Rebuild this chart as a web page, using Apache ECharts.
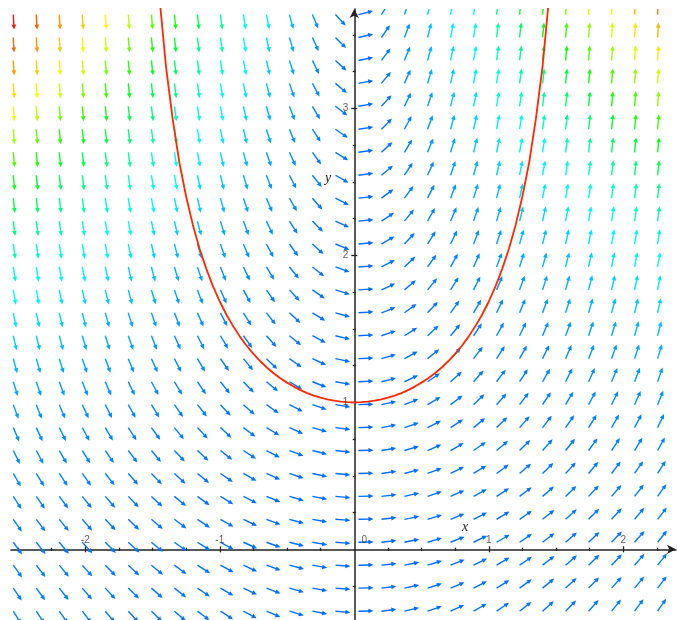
<!DOCTYPE html>
<html><head><meta charset="utf-8">
<script src="https://cdn.jsdelivr.net/npm/echarts@6/dist/echarts.min.js"></script>
<style>html,body{margin:0;padding:0;background:#fff}#c{width:677px;height:620px}</style>
</head><body><div id="c"></div>
<script>
// Arrow tail positions of the direction field (data units)
const gridX = [-2.535,-2.364,-2.193,-2.022,-1.851,-1.680,-1.508,-1.337,-1.166,-0.995,-0.824,-0.653,-0.482,-0.311,-0.140,0.031,0.202,0.373,0.545,0.716,0.887,1.058,1.229,1.400,1.571,1.742,1.913,2.084,2.255];
const gridY = [3.638,3.482,3.326,3.170,3.014,2.858,2.701,2.545,2.389,2.233,2.077,1.921,1.765,1.609,1.453,1.297,1.140,0.984,0.828,0.672,0.516,0.360,0.204,0.048,-0.108,-0.264,-0.421];
// Slope dy/dx of each arrow, row by row (top row first)
const slopes = [
[-18.04,-16.82,-15.61,-14.39,-13.17,-11.95,-10.73,-9.52,-8.30,-7.08,-5.86,-4.65,-3.43,-2.21,-0.99,0.22,1.44,2.66,3.88,5.09,6.31,7.53,8.75,9.96,11.18,12.40,13.62,14.83,16.05],
[-16.64,-15.51,-14.39,-13.27,-12.14,-11.02,-9.90,-8.77,-7.65,-6.53,-5.40,-4.28,-3.16,-2.04,-0.91,0.21,1.33,2.45,3.58,4.70,5.82,6.95,8.07,9.19,10.32,11.44,12.56,13.68,14.81],
[-15.29,-14.26,-13.23,-12.19,-11.16,-10.13,-9.10,-8.07,-7.03,-6.00,-4.97,-3.94,-2.91,-1.87,-0.84,0.19,1.22,2.25,3.29,4.32,5.35,6.38,7.41,8.45,9.48,10.51,11.54,12.57,13.61],
[-14.00,-13.06,-12.11,-11.17,-10.22,-9.28,-8.33,-7.39,-6.44,-5.50,-4.55,-3.61,-2.66,-1.72,-0.77,0.17,1.12,2.06,3.01,3.95,4.90,5.84,6.79,7.73,8.68,9.62,10.57,11.51,12.46],
[-12.78,-11.92,-11.06,-10.19,-9.33,-8.47,-7.60,-6.74,-5.88,-5.02,-4.15,-3.29,-2.43,-1.56,-0.70,0.16,1.02,1.89,2.75,3.61,4.48,5.34,6.20,7.06,7.93,8.79,9.65,10.52,11.38],
[-11.62,-10.84,-10.05,-9.27,-8.48,-7.70,-6.91,-6.13,-5.34,-4.56,-3.78,-2.99,-2.21,-1.42,-0.64,0.14,0.93,1.71,2.50,3.28,4.07,4.85,5.63,6.42,7.20,7.99,8.77,9.56,10.34],
[-10.52,-9.81,-9.10,-8.39,-7.68,-6.97,-6.26,-5.55,-4.84,-4.13,-3.42,-2.71,-2.00,-1.29,-0.58,0.13,0.84,1.55,2.26,2.97,3.68,4.39,5.10,5.81,6.52,7.23,7.94,8.65,9.36],
[-9.48,-8.84,-8.20,-7.56,-6.92,-6.28,-5.64,-5.00,-4.36,-3.72,-3.08,-2.44,-1.80,-1.16,-0.52,0.12,0.76,1.40,2.04,2.68,3.32,3.96,4.60,5.24,5.88,6.52,7.16,7.80,8.44],
[-8.50,-7.93,-7.35,-6.78,-6.21,-5.63,-5.06,-4.49,-3.91,-3.34,-2.76,-2.19,-1.62,-1.04,-0.47,0.10,0.68,1.25,1.82,2.40,2.97,3.55,4.12,4.69,5.27,5.84,6.42,6.99,7.56],
[-7.59,-7.08,-6.56,-6.05,-5.54,-5.03,-4.52,-4.00,-3.49,-2.98,-2.47,-1.96,-1.44,-0.93,-0.42,0.09,0.60,1.12,1.63,2.14,2.65,3.16,3.68,4.19,4.70,5.21,5.72,6.24,6.75],
[-6.74,-6.28,-5.83,-5.37,-4.92,-4.46,-4.01,-3.55,-3.10,-2.64,-2.19,-1.73,-1.28,-0.83,-0.37,0.08,0.54,0.99,1.45,1.90,2.36,2.81,3.27,3.72,4.17,4.63,5.08,5.54,5.99],
[-5.95,-5.54,-5.14,-4.74,-4.34,-3.94,-3.54,-3.14,-2.73,-2.33,-1.93,-1.53,-1.13,-0.73,-0.33,0.07,0.47,0.87,1.28,1.68,2.08,2.48,2.88,3.28,3.68,4.08,4.49,4.89,5.29],
[-5.22,-4.87,-4.51,-4.16,-3.81,-3.46,-3.10,-2.75,-2.40,-2.05,-1.70,-1.34,-0.99,-0.64,-0.29,0.06,0.42,0.77,1.12,1.47,1.83,2.18,2.53,2.88,3.23,3.59,3.94,4.29,4.64],
[-4.55,-4.24,-3.93,-3.63,-3.32,-3.01,-2.71,-2.40,-2.09,-1.78,-1.48,-1.17,-0.86,-0.56,-0.25,0.06,0.36,0.67,0.98,1.28,1.59,1.90,2.21,2.51,2.82,3.13,3.43,3.74,4.05],
[-3.94,-3.68,-3.41,-3.15,-2.88,-2.61,-2.35,-2.08,-1.81,-1.55,-1.28,-1.02,-0.75,-0.48,-0.22,0.05,0.31,0.58,0.85,1.11,1.38,1.65,1.91,2.18,2.44,2.71,2.98,3.24,3.51],
[-3.40,-3.17,-2.94,-2.71,-2.48,-2.25,-2.02,-1.79,-1.56,-1.33,-1.10,-0.88,-0.65,-0.42,-0.19,0.04,0.27,0.50,0.73,0.96,1.19,1.42,1.65,1.88,2.11,2.34,2.57,2.80,3.02],
[-2.92,-2.72,-2.52,-2.33,-2.13,-1.93,-1.73,-1.54,-1.34,-1.14,-0.95,-0.75,-0.55,-0.36,-0.16,0.04,0.23,0.43,0.63,0.82,1.02,1.22,1.41,1.61,1.81,2.00,2.20,2.40,2.59],
[-2.49,-2.33,-2.16,-1.99,-1.82,-1.65,-1.48,-1.32,-1.15,-0.98,-0.81,-0.64,-0.47,-0.31,-0.14,0.03,0.20,0.37,0.54,0.70,0.87,1.04,1.21,1.38,1.55,1.71,1.88,2.05,2.22],
[-2.14,-1.99,-1.85,-1.70,-1.56,-1.42,-1.27,-1.13,-0.98,-0.84,-0.69,-0.55,-0.41,-0.26,-0.12,0.03,0.17,0.31,0.46,0.60,0.75,0.89,1.04,1.18,1.32,1.47,1.61,1.76,1.90],
[-1.84,-1.72,-1.59,-1.47,-1.34,-1.22,-1.10,-0.97,-0.85,-0.72,-0.60,-0.47,-0.35,-0.23,-0.10,0.02,0.15,0.27,0.40,0.52,0.64,0.77,0.89,1.02,1.14,1.26,1.39,1.51,1.64],
[-1.60,-1.50,-1.39,-1.28,-1.17,-1.06,-0.95,-0.85,-0.74,-0.63,-0.52,-0.41,-0.31,-0.20,-0.09,0.02,0.13,0.24,0.34,0.45,0.56,0.67,0.78,0.89,0.99,1.10,1.21,1.32,1.43],
[-1.43,-1.34,-1.24,-1.14,-1.05,-0.95,-0.85,-0.76,-0.66,-0.56,-0.47,-0.37,-0.27,-0.18,-0.08,0.02,0.11,0.21,0.31,0.40,0.50,0.60,0.69,0.79,0.89,0.98,1.08,1.18,1.27],
[-1.32,-1.23,-1.14,-1.05,-0.96,-0.88,-0.79,-0.70,-0.61,-0.52,-0.43,-0.34,-0.25,-0.16,-0.07,0.02,0.11,0.19,0.28,0.37,0.46,0.55,0.64,0.73,0.82,0.91,1.00,1.09,1.17],
[-1.27,-1.18,-1.10,-1.01,-0.93,-0.84,-0.76,-0.67,-0.58,-0.50,-0.41,-0.33,-0.24,-0.16,-0.07,0.02,0.10,0.19,0.27,0.36,0.44,0.53,0.62,0.70,0.79,0.87,0.96,1.04,1.13],
[-1.28,-1.20,-1.11,-1.02,-0.94,-0.85,-0.76,-0.68,-0.59,-0.50,-0.42,-0.33,-0.24,-0.16,-0.07,0.02,0.10,0.19,0.28,0.36,0.45,0.54,0.62,0.71,0.79,0.88,0.97,1.05,1.14],
[-1.36,-1.26,-1.17,-1.08,-0.99,-0.90,-0.81,-0.72,-0.62,-0.53,-0.44,-0.35,-0.26,-0.17,-0.07,0.02,0.11,0.20,0.29,0.38,0.47,0.57,0.66,0.75,0.84,0.93,1.02,1.11,1.21],
[-1.49,-1.39,-1.29,-1.19,-1.09,-0.99,-0.89,-0.79,-0.69,-0.59,-0.49,-0.38,-0.28,-0.18,-0.08,0.02,0.12,0.22,0.32,0.42,0.52,0.62,0.72,0.82,0.93,1.03,1.13,1.23,1.33]
];
// Red solution curve
const curveX = [-1.5,-1.45,-1.4,-1.35,-1.3,-1.25,-1.2,-1.15,-1.1,-1.05,-1.0,-0.95,-0.9,-0.85,-0.8,-0.75,-0.7,-0.65,-0.6,-0.55,-0.5,-0.45,-0.4,-0.35,-0.3,-0.25,-0.2,-0.15,-0.1,-0.05,0,0.05,0.1,0.15,0.2,0.25,0.3,0.35,0.4,0.45,0.5,0.55,0.6,0.65,0.7,0.75,0.8,0.85,0.9,0.95,1.0,1.05,1.1,1.15,1.2,1.25,1.3,1.35,1.4,1.45,1.5];
const curveY = [4.43,3.771,3.286,2.926,2.630,2.400,2.207,2.045,1.908,1.789,1.686,1.596,1.517,1.447,1.385,1.330,1.281,1.237,1.198,1.164,1.134,1.107,1.083,1.063,1.046,1.032,1.020,1.011,1.005,1.001,1.0,1.001,1.005,1.011,1.020,1.032,1.046,1.063,1.083,1.107,1.134,1.164,1.198,1.237,1.281,1.330,1.385,1.447,1.517,1.596,1.686,1.789,1.908,2.045,2.207,2.400,2.630,2.926,3.286,3.771,4.43];
// Axis ticks and labels
const xMajorTicks = [-2,-1,1,2];
const xMinorTicks = [-2.5,-2.25,-1.75,-1.5,-1.25,-0.75,-0.5,-0.25,0.25,0.5,0.75,1.25,1.5,1.75,2.25];
const yMajorTicks = [1,2,3];
const yMinorTicks = [-0.25,0.25,0.5,0.75,1.25,1.5,1.75,2.25,2.5,2.75,3.25,3.5];
const xLabels = [-2,-1,0,1,2];
const yLabels = [1,2,3];
const magnitudeColors = ['#006aff','#0077ff','#008cff','#00aaff','#00d0ff','#00f6ff','#00ffd4','#00ff9d','#00ff6a','#00ff2a','#2aff00','#6aff00','#bfff00','#f6ff00','#ffdd00','#ffae00','#ff8000','#ff5500','#ff1500'];

const XMIN = -2.552, XMAX = 2.392, YMIN = -0.481, YMAX = 3.676;
const AX = '#222';

const fieldData = [];
for (let j = 0; j < gridY.length; j++) {
  for (let i = 0; i < gridX.length; i++) {
    const s = slopes[j][i];
    fieldData.push([gridX[i], gridY[j], s, Math.abs(s)]);
  }
}
const curveData = curveX.map((x, k) => [x, curveY[k]]);

function renderArrow(params, api) {
  const x = api.value(0), y = api.value(1), s = api.value(2);
  const p0 = api.coord([x, y]);
  const p1 = api.coord([x + 0.1, y + 0.1 * s]);
  let dx = p1[0] - p0[0], dy = p1[1] - p0[1];
  const n = Math.hypot(dx, dy); dx /= n; dy /= n;
  const L = 15, hl = 5, hw = 2.3;
  const tip = [p0[0] + dx * L, p0[1] + dy * L];
  const base = [tip[0] - dx * hl, tip[1] - dy * hl];
  const color = api.visual('color');
  return {
    type: 'group',
    children: [
      {type: 'line', shape: {x1: p0[0], y1: p0[1], x2: base[0] + dx, y2: base[1] + dy},
       style: {stroke: color, lineWidth: 1.4}},
      {type: 'polygon', shape: {points: [tip, [base[0] - dy * hw, base[1] + dx * hw], [base[0] + dy * hw, base[1] - dx * hw]]},
       style: {fill: color}}
    ]
  };
}

function hiddenAxis(min, max, extra) {
  return Object.assign({
    type: 'value', min: min, max: max, splitLine: {show: false},
    axisLine: {show: false, onZero: true, onZeroAxisIndex: 0},
    axisLabel: {show: false}, axisTick: {show: false}
  }, extra);
}
const tickStyle = {color: AX, width: 1.3};
const labelFont = {fontSize: 10, color: '#333', fontFamily: 'Liberation Sans'};

const chart = echarts.init(document.getElementById('c'), null, {renderer: 'canvas'});
chart.setOption({
  animation: false,
  backgroundColor: '#fff',
  grid: {left: 11, right: 1, top: 9, bottom: 0, containLabel: false},
  xAxis: [
    hiddenAxis(XMIN, XMAX, {
      position: 'bottom',
      axisLine: {show: true, onZero: true, onZeroAxisIndex: 0, symbol: ['none', 'arrow'], symbolSize: [7, 9], lineStyle: {color: AX, width: 1.5}},
      axisTick: {show: true, customValues: xMajorTicks, length: 3, lineStyle: tickStyle}
    }),
    hiddenAxis(XMIN, XMAX, {position: 'bottom', axisTick: {show: true, inside: true, customValues: xMajorTicks, length: 3, lineStyle: tickStyle}}),
    hiddenAxis(XMIN, XMAX, {position: 'bottom', axisTick: {show: true, customValues: xMinorTicks, length: 1.6, lineStyle: tickStyle}}),
    hiddenAxis(XMIN, XMAX, {position: 'bottom', axisTick: {show: true, inside: true, customValues: xMinorTicks, length: 1.6, lineStyle: tickStyle}})
  ],
  yAxis: [
    hiddenAxis(YMIN, YMAX, {
      position: 'left',
      axisLine: {show: true, onZero: true, onZeroAxisIndex: 0, symbol: ['none', 'arrow'], symbolSize: [7, 9], lineStyle: {color: AX, width: 1.5}},
      axisTick: {show: true, customValues: yMajorTicks, length: 3, lineStyle: tickStyle}
    }),
    hiddenAxis(YMIN, YMAX, {position: 'left', axisTick: {show: true, inside: true, customValues: yMajorTicks, length: 3, lineStyle: tickStyle}}),
    hiddenAxis(YMIN, YMAX, {position: 'left', axisTick: {show: true, customValues: yMinorTicks, length: 1.6, lineStyle: tickStyle}}),
    hiddenAxis(YMIN, YMAX, {position: 'left', axisTick: {show: true, inside: true, customValues: yMinorTicks, length: 1.6, lineStyle: tickStyle}})
  ],
  visualMap: {
    type: 'continuous', show: false, seriesIndex: 0, dimension: 3,
    min: 0, max: 18, inRange: {color: magnitudeColors}
  },
  graphic: [
    {type: 'text', x: 465, y: 527, style: {text: 'x', font: 'italic 14px "Liberation Serif"', fill: '#222', align: 'center', verticalAlign: 'middle'}},
    {type: 'text', x: 328, y: 178, style: {text: 'y', font: 'italic 14px "Liberation Serif"', fill: '#222', align: 'center', verticalAlign: 'middle'}}
  ],
  series: [
    {
      type: 'custom', name: 'field', xAxisIndex: 0, yAxisIndex: 0,
      dimensions: ['x', 'y', 's', 'm'], encode: {x: 0, y: 1},
      renderItem: renderArrow, data: fieldData, clip: true, z: 2, silent: true
    },
    {
      type: 'line', name: 'solution', xAxisIndex: 0, yAxisIndex: 0,
      data: curveData, smooth: false, showSymbol: false, clip: true, z: 5, silent: true,
      lineStyle: {color: '#ff2a00', width: 1.8}
    },
    {
      type: 'scatter', name: 'xTickLabels', xAxisIndex: 0, yAxisIndex: 0, symbolSize: 0, z: 6, silent: true,
      data: xLabels.map(v => ({value: [v, 0], label: {offset: v === 0 ? [10, 0] : [0, 0]}})),
      label: Object.assign({show: true, position: 'top', distance: 4, formatter: p => String(p.value[0])}, labelFont)
    },
    {
      type: 'scatter', name: 'yTickLabels', xAxisIndex: 0, yAxisIndex: 0, symbolSize: 0, z: 6, silent: true,
      data: yLabels.map(v => [0, v]),
      label: Object.assign({show: true, position: 'left', distance: 6, formatter: p => String(p.value[1])}, labelFont)
    }
  ]
});
</script>
</body></html>
